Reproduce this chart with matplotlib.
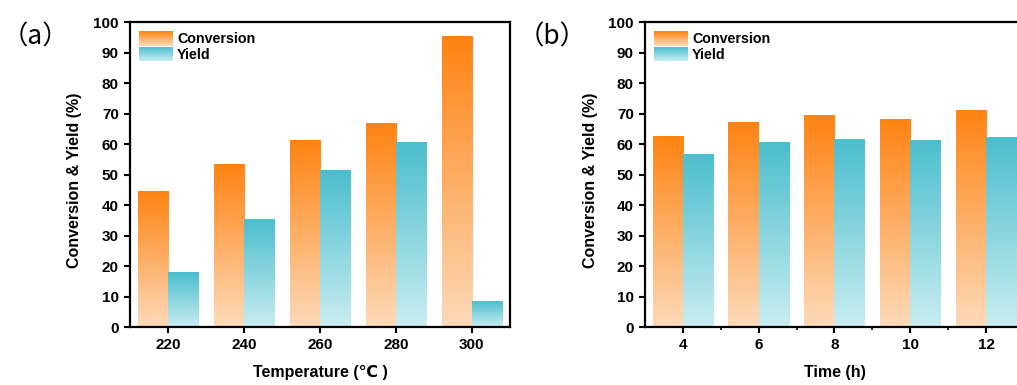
import numpy as np
import matplotlib
matplotlib.use("Agg")
import matplotlib.pyplot as plt
from matplotlib.colors import LinearSegmentedColormap
from matplotlib.legend_handler import HandlerBase
from matplotlib.patches import Rectangle, Patch
from matplotlib.ticker import MultipleLocator

plt.rcParams["font.family"] = ["Liberation Sans", "DejaVu Sans"]
plt.rcParams["font.weight"] = "bold"

# Panel (a): temperature series
temperature = [220, 240, 260, 280, 300]
conv_temp = [44.3, 53.2, 61.3, 66.8, 95.3]
yield_temp = [17.8, 35.4, 51.2, 60.4, 8.3]

# Panel (b): time series
time_h = [4, 6, 8, 10, 12]
conv_time = [62.3, 66.9, 69.2, 68.1, 71.0]
yield_time = [56.4, 60.5, 61.4, 61.1, 62.1]

orange_top, orange_bottom = "#ff8312", "#fddab9"
cyan_top, cyan_bottom = "#4bbecd", "#c9edf1"

cmap_orange = LinearSegmentedColormap.from_list("o", [orange_bottom, orange_top])
cmap_cyan = LinearSegmentedColormap.from_list("c", [cyan_bottom, cyan_top])
grad = np.linspace(0, 1, 256).reshape(-1, 1)


def gradient_bars(ax, bars, cmap):
    # fill each bar with a vertical gradient (pale at bottom, saturated at top)
    for b in bars:
        x, y = b.get_x(), b.get_y()
        w, h = b.get_width(), b.get_height()
        ax.imshow(grad, extent=[x, x + w, y, y + h], origin="lower",
                  aspect="auto", cmap=cmap, zorder=2, interpolation="bicubic")
        b.set_facecolor("none")
        b.set_edgecolor("none")


class GradientHandler(HandlerBase):
    def __init__(self, cmap):
        super().__init__()
        self.cmap = cmap

    def create_artists(self, legend, orig_handle, xdescent, ydescent,
                       width, height, fontsize, trans):
        n = 30
        arts = []
        for i in range(n):
            r = Rectangle((-xdescent, -ydescent + height * i / n), width,
                          height / n + 0.05, facecolor=self.cmap((i + 0.5) / n),
                          edgecolor="none", transform=trans)
            arts.append(r)
        return arts


def style_axis(ax):
    for s in ax.spines.values():
        s.set_linewidth(1.6)
    ax.set_ylim(0, 100)
    ax.yaxis.set_major_locator(MultipleLocator(10))
    ax.tick_params(axis="both", which="major", length=4.5, width=1.5,
                   labelsize=11, direction="out")
    ax.tick_params(axis="both", which="minor", length=2.5, width=1.2,
                   direction="out")
    ax.tick_params(right=False, top=False)
    for lab in ax.get_xticklabels() + ax.get_yticklabels():
        lab.set_fontweight("bold")
    ax.set_ylabel("Conversion & Yield (%)", fontsize=11.5, fontweight="bold")
    ax.yaxis.set_label_coords(-0.125, 0.48)
    h1 = Patch(label="Conversion")
    h2 = Patch(label="Yield")
    ax.legend(handles=[h1, h2], loc="upper left", frameon=False,
              handler_map={h1: GradientHandler(cmap_orange),
                           h2: GradientHandler(cmap_cyan)},
              prop={"weight": "bold", "size": 10.3}, handlelength=2.35,
              handleheight=1.15, handletextpad=0.3, labelspacing=0.05,
              borderaxespad=0.35, borderpad=0.3)


fig = plt.figure(figsize=(10.17, 3.85), dpi=100)
ax1 = fig.add_axes([0.1278, 0.1506, 0.3736, 0.7922])
ax2 = fig.add_axes([0.6342, 0.1506, 0.3727, 0.7922])

# (a)
w = 8
b1 = ax1.bar(np.array(temperature) - w / 2, conv_temp, width=w)
b2 = ax1.bar(np.array(temperature) + w / 2, yield_temp, width=w)
gradient_bars(ax1, b1, cmap_orange)
gradient_bars(ax1, b2, cmap_cyan)
ax1.set_xlim(210, 310)
ax1.set_xticks(temperature)
ax1.set_xlabel("Temperature (\u2103 )", fontsize=11.5, fontweight="bold",
               labelpad=9)
style_axis(ax1)

# (b)
w = 0.8
b3 = ax2.bar(np.array(time_h) - w / 2, conv_time, width=w)
b4 = ax2.bar(np.array(time_h) + w / 2, yield_time, width=w)
gradient_bars(ax2, b3, cmap_orange)
gradient_bars(ax2, b4, cmap_cyan)
ax2.set_xlim(3, 13)
ax2.set_xticks(time_h)
ax2.set_xticks([5, 7, 9, 11], minor=True)
ax2.set_xlabel("Time (h)", fontsize=11.5, fontweight="bold", labelpad=9)
style_axis(ax2)

lab_font = ["Noto Sans CJK SC", "DejaVu Sans"]
fig.text(0.002, 0.905, "\uff08a\uff09", fontsize=19, family=lab_font,
         fontweight="normal", va="center")
fig.text(0.509, 0.905, "\uff08b\uff09", fontsize=19, family=lab_font,
         fontweight="normal", va="center")

fig.savefig("out.png", dpi=100)
